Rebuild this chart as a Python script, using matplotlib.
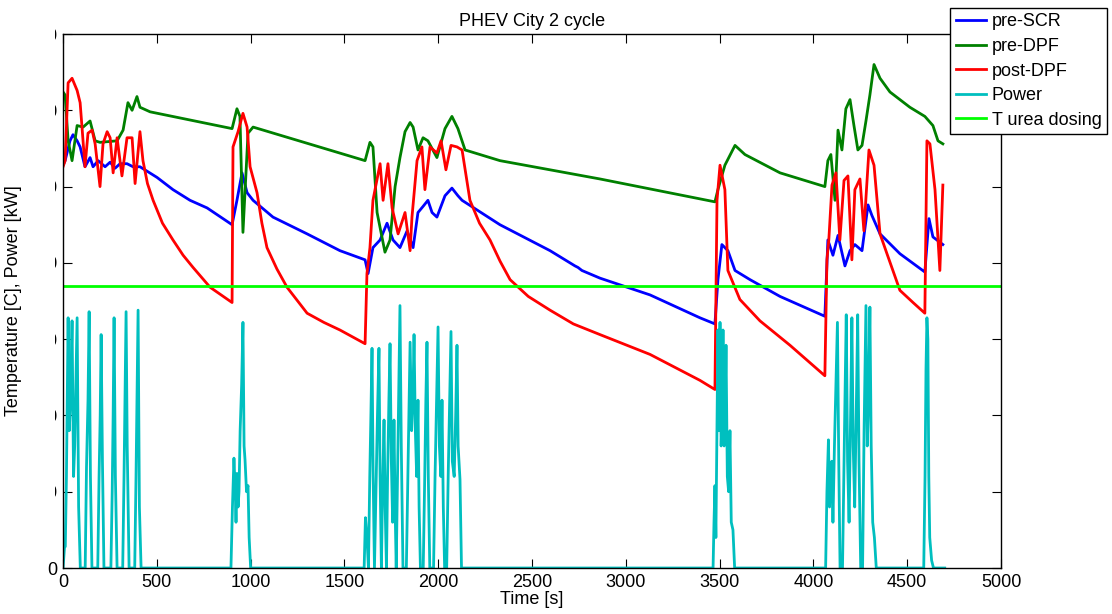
import numpy as np
import matplotlib
matplotlib.use('Agg')
import matplotlib.pyplot as plt
from matplotlib.patches import Rectangle

plt.rcParams['font.family'] = ['Liberation Sans', 'DejaVu Sans']

# pre-SCR temperature [C]
scr_t = [0, 11, 37, 53, 75, 91, 117, 144, 160, 187, 224, 251, 277, 304, 341, 373, 410,
         501, 586, 677, 768, 901, 927, 954, 981, 1013, 1119, 1301, 1476, 1610, 1626, 1652,
         1690, 1727, 1759, 1796, 1834, 1866, 1892, 1919, 1945, 1967, 1993, 2036, 2073, 2105,
         2127, 2329, 2596, 2729, 2745, 2766, 2862, 3129, 3395, 3475, 3491, 3512, 3544, 3582,
         3662, 3822, 4061, 4077, 4104, 4131, 4168, 4195, 4221, 4259, 4291, 4312, 4355, 4461,
         4594, 4616, 4637, 4690]
scr_temp = [264, 267, 280, 284, 280, 276, 263, 269, 263, 267, 263, 266, 262, 265, 265, 263, 263,
            256, 248, 241, 236, 225, 241, 259, 246, 241, 230, 219, 208, 202, 193, 210,
            215, 226, 215, 210, 221, 210, 233, 237, 241, 233, 230, 244, 249, 244,
            241, 225, 208, 198, 197, 195, 190, 179, 164, 160, 189, 212, 208, 195,
            189, 178, 165, 215, 205, 218, 198, 208, 212, 208, 238, 231, 219, 206,
            194, 229, 217, 212]

# pre-DPF temperature [C]
dpf_in_t = [0, 11, 27, 48, 75, 107, 144, 171, 197, 288, 320, 346, 368, 394, 410, 464, 901,
            927, 943, 959, 986, 1013, 1610, 1636, 1652, 1674, 1716, 1743, 1770, 1796, 1823,
            1850, 1866, 1892, 1919, 1945, 1993, 2036, 2073, 2105, 2143, 2329, 2862, 3475,
            3491, 3528, 3582, 3635, 3822, 4061, 4077, 4093, 4115, 4131, 4152, 4173, 4195,
            4216, 4237, 4259, 4280, 4301, 4323, 4355, 4408, 4514, 4594, 4637, 4664, 4690]
dpf_in_temp = [312, 310, 280, 267, 290, 289, 293, 280, 279, 280, 287, 305, 300, 309, 302, 299, 288,
               301, 296, 220, 285, 289, 267, 279, 276, 233, 207, 215, 250, 269, 286,
               292, 289, 274, 282, 280, 269, 288, 296, 288, 274, 267, 255, 240,
               248, 264, 277, 271, 259, 250, 267, 271, 241, 287, 274, 301, 307,
               290, 274, 277, 293, 310, 330, 321, 312, 302, 296, 290, 280, 278]

# post-DPF temperature [C]
dpf_out_t = [0, 11, 27, 48, 75, 91, 101, 117, 133, 155, 171, 197, 213, 235, 251, 267, 288, 314,
             341, 368, 384, 410, 426, 450, 480, 530, 586, 640, 693, 784, 901, 906, 933, 959, 981,
             997, 1034, 1060, 1087, 1140, 1194, 1301, 1390, 1476, 1610, 1620, 1636, 1652, 1690,
             1706, 1732, 1754, 1786, 1823, 1850, 1860, 1887, 1913, 1929, 1956, 1993, 2015, 2041,
             2068, 2100, 2127, 2169, 2220, 2276, 2330, 2383, 2480, 2596, 2720, 2862, 3129, 3395,
             3475, 3486, 3502, 3528, 3544, 3608, 3715, 3875, 4061, 4072, 4082, 4099, 4120, 4141,
             4163, 4184, 4205, 4221, 4248, 4269, 4296, 4323, 4355, 4392, 4461, 4531, 4594, 4605,
             4621, 4648, 4674, 4690]
dpf_out_temp = [263, 267, 318, 321, 313, 305, 289, 263, 285, 287, 278, 250, 278, 286, 282, 259, 282, 257,
                282, 282, 252, 286, 267, 252, 241, 226, 215, 205, 197, 184, 174, 276, 286, 298, 289,
                263, 246, 226, 210, 196, 184, 167, 161, 156, 147, 193, 210, 241, 265,
                241, 265, 236, 219, 233, 208, 230, 267, 276, 248, 276, 272, 280, 261,
                277, 276, 274, 241, 226, 215, 201, 189, 178, 169, 160, 153, 140, 123,
                117, 241, 264, 248, 195, 176, 162, 146, 126, 202, 215, 251, 259, 215,
                254, 257, 202, 248, 255, 221, 274, 264, 219, 206, 182, 174, 167, 280,
                278, 248, 195, 251]

# power [kW]
power_t = [0, 8, 12, 18, 27, 33, 40, 48, 56, 62, 68, 75, 83, 92,
           118, 125, 133, 139, 146, 154,
           185, 192, 198, 203, 210, 218,
           255, 262, 267, 272, 279, 288,
           318, 325, 331, 336, 342, 352,
           382, 389, 395, 400, 407, 416,
           895, 903, 911, 918, 922, 927, 933, 938, 944, 952, 959, 965, 970, 978, 986, 992, 1000,
           1605, 1612, 1620, 1628, 1635, 1641, 1647, 1653, 1660, 1668, 1676, 1684, 1690, 1697,
           1703, 1711, 1717, 1724, 1730, 1737, 1743, 1750, 1757, 1764, 1770, 1776, 1783, 1790,
           1796, 1803, 1812, 1830, 1838, 1845, 1850, 1858, 1865, 1871, 1878, 1885, 1892, 1898,
           1905, 1920, 1928, 1934, 1940, 1947, 1955, 1975, 1983, 1991, 1999, 2006, 2014, 2020,
           2027, 2034, 2045, 2053, 2061, 2068, 2075, 2085, 2093, 2100, 2106, 2116, 2124,
           3465, 3470, 3475, 3480, 3485, 3491, 3496, 3502, 3508, 3513, 3518, 3524, 3529, 3534,
           3541, 3548, 3555, 3562, 3571, 3580,
           4065, 4072, 4080, 4086, 4092, 4098, 4104, 4112, 4120, 4128, 4135, 4142, 4155, 4162,
           4168, 4175, 4182, 4190, 4197, 4205, 4212, 4220, 4228, 4236, 4243, 4252, 4262, 4270,
           4280, 4287, 4294, 4301, 4308, 4316, 4325, 4335,
           4588, 4595, 4600, 4605, 4610, 4615, 4620, 4630, 4640, 4700]
power_kw = [0, 14, 14, 60, 164, 90, 110, 162, 60, 80, 120, 164, 40, 0,
            0, 66, 110, 168, 60, 0,
            0, 60, 100, 153, 70, 0,
            0, 50, 100, 164, 60, 0,
            0, 60, 120, 168, 80, 0,
            0, 60, 120, 169, 40, 0,
            0, 40, 72, 50, 30, 62, 40, 50, 90, 120, 161, 80, 71, 50, 54, 20, 0,
            0, 33, 20, 0, 60, 100, 144, 60, 0, 50, 100, 144, 60, 0,
            50, 97, 40, 0, 60, 110, 147, 70, 30, 97, 40, 0, 60, 120,
            172, 80, 0, 0, 60, 110, 148, 90, 110, 153, 90, 60, 110, 40,
            0, 0, 60, 110, 148, 60, 0, 0, 60, 110, 158, 80, 60, 110,
            40, 0, 0, 60, 110, 155, 70, 60, 100, 146, 80, 58, 0,
            0, 30, 54, 20, 80, 156, 90, 161, 80, 100, 156, 80, 100, 146,
            60, 50, 90, 30, 25, 0,
            0, 50, 84, 40, 60, 70, 30, 80, 120, 161, 70, 0, 0, 60,
            110, 166, 70, 30, 90, 164, 80, 40, 100, 166, 70, 0, 0, 90,
            172, 80, 110, 171, 80, 30, 20, 0,
            0, 60, 130, 164, 150, 60, 20, 5, 0, 0]

urea_dosing_temp = 185

labels = ['pre-SCR', 'pre-DPF', 'post-DPF', 'Power', 'T urea dosing']
colors = ['#0000ff', '#008000', '#ff0000', '#00bfbf', '#00ff00']


def plot_cycle() -> None:
    fig = plt.figure(figsize=(11.12, 6.14), dpi=100)
    ax = fig.add_axes([0.0567, 0.0749, 0.8435, 0.8697])

    ax.plot(scr_t, scr_temp, color=colors[0], lw=2, label=labels[0])
    ax.plot(dpf_in_t, dpf_in_temp, color=colors[1], lw=2, label=labels[1])
    ax.plot(dpf_out_t, dpf_out_temp, color=colors[2], lw=2, label=labels[2])
    ax.plot(power_t, power_kw, color=colors[3], lw=2, label=labels[3])
    ax.axhline(urea_dosing_temp, color=colors[4], lw=2, label=labels[4])

    ax.set_xlim(0, 5000)
    ax.set_ylim(0, 350)
    ax.set_xticks(np.arange(0, 5001, 500))
    ax.set_yticks(np.arange(0, 351, 50))
    ax.tick_params(direction='in', length=6.8, width=0.8, top=True, right=True,
                   labelsize=13, pad=4)
    for spine in ax.spines.values():
        spine.set_linewidth(1.0)

    ax.set_title('PHEV City 2 cycle', fontsize=13, pad=6)
    ax.set_xlabel('Time [s]', fontsize=13, labelpad=0)
    ax.set_ylabel('Temperature [C], Power [kW]', fontsize=13)
    ax.yaxis.set_label_coords(-0.044, 0.5)

    leg = ax.legend(loc='upper right', bbox_to_anchor=(1107 / 1112, 1 - 8 / 614),
                    bbox_transform=fig.transFigure, borderaxespad=0, fontsize=13,
                    fancybox=False, framealpha=1, edgecolor='black',
                    handlelength=1.7, handletextpad=0.3, labelspacing=0.42,
                    borderpad=0.3)
    leg.get_frame().set_linewidth(1.0)

    # the tick labels of the original are cut off, only their last digit shows
    fig.add_artist(Rectangle((24 / 1112, 1 - 552 / 614), 31 / 1112, 528 / 614,
                             transform=fig.transFigure, facecolor='white',
                             edgecolor='none', zorder=5))

    fig.savefig('out.png', dpi=100)


plot_cycle()
